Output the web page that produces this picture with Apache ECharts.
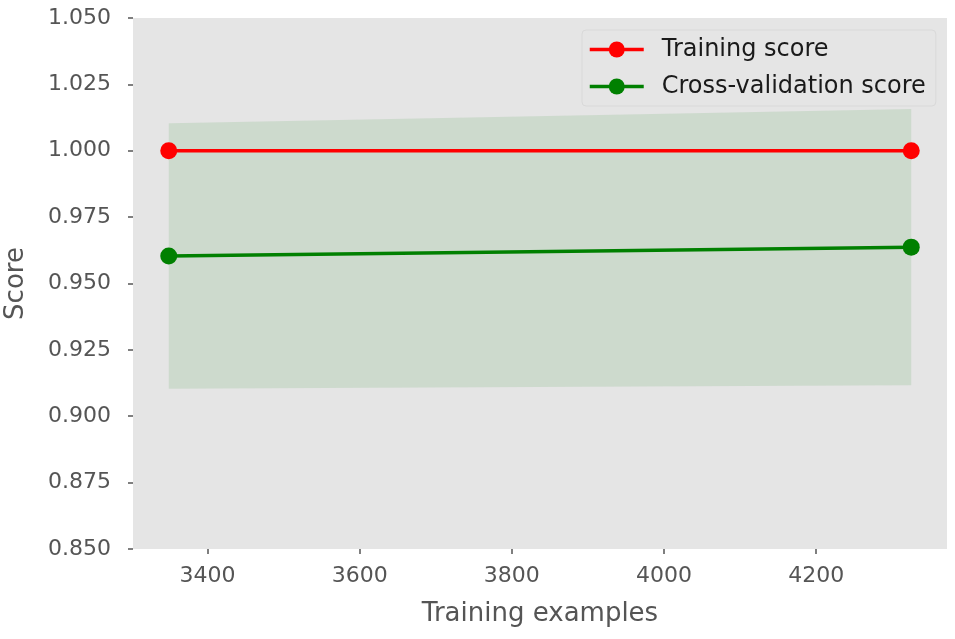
<!DOCTYPE html>
<html>
<head>
<meta charset="utf-8">
<script src="https://cdn.jsdelivr.net/npm/echarts@6/dist/echarts.min.js"></script>
<style>
  html, body { margin: 0; padding: 0; background: #fff; }
  #main { width: 955px; height: 639px; }
</style>
</head>
<body>
<div id="main"></div>
<script>
// learning curve data
var trainSizes = [3349, 4325];
var trainScore = [1.0, 1.0];
var cvScore = [0.9604, 0.9637];
var cvUpper = [1.0104, 1.0157];
var cvLower = [0.9104, 0.9117];
var xTicks = [3400, 3600, 3800, 4000, 4200];

var font = 'DejaVu Sans';

function pairs(xs, ys) {
  return xs.map(function (x, i) { return [x, ys[i]]; });
}

var myChart = echarts.init(document.getElementById('main'));

var option = {
  backgroundColor: '#ffffff',
  animation: false,
  grid: {
    left: 133, right: 8, top: 18, bottom: 90,
    outerBoundsMode: 'none',
    containLabel: false,
    show: true, backgroundColor: '#E5E5E5', borderWidth: 0
  },
  legend: {
    orient: 'vertical',
    left: 582, top: 30,
    padding: [7, 10, 7, 6],
    itemWidth: 54, itemHeight: 20, itemGap: 12,
    backgroundColor: '#E5E5E5',
    borderColor: '#D9D9D9', borderWidth: 1, borderRadius: 4,
    lineStyle: { width: 3.5 },
    textStyle: { fontFamily: font, fontSize: 24, color: '#1a1a1a', lineHeight: 25, padding: [0, 0, 0, 13] },
    data: ['Training score', 'Cross-validation score']
  },
  xAxis: {
    type: 'value',
    min: 3302, max: 4372,
    name: 'Training examples',
    nameLocation: 'middle',
    nameGap: 52,
    nameTextStyle: { fontFamily: font, fontSize: 26, color: '#555555' },
    axisLine: { show: false },
    axisTick: { show: true, length: 5, customValues: xTicks, lineStyle: { color: '#555555', width: 1.5 } },
    axisLabel: {
      customValues: xTicks, fontFamily: font, fontSize: 22, color: '#555555', margin: 16,
      formatter: function (v) { return String(v); }
    },
    splitLine: { show: false }
  },
  yAxis: {
    type: 'value',
    min: 0.85, max: 1.05, interval: 0.025,
    name: 'Score',
    nameLocation: 'middle',
    nameGap: 104,
    nameTextStyle: { fontFamily: font, fontSize: 26, color: '#555555' },
    axisLine: { show: false },
    axisTick: { show: true, length: 5, lineStyle: { color: '#555555', width: 1.5 } },
    axisLabel: {
      fontFamily: font, fontSize: 22, color: '#555555', margin: 22,
      formatter: function (v) { return v.toFixed(3); }
    },
    splitLine: { show: false }
  },
  series: [
    {
      // std band of cross-validation score
      type: 'custom',
      silent: true,
      z: 1,
      data: trainSizes.map(function (x, i) { return [x, cvLower[i], cvUpper[i]]; }),
      renderItem: function (params, api) {
        if (params.dataIndex !== 0) return;
        var top = [], bottom = [];
        for (var i = 0; i < trainSizes.length; i++) {
          top.push(api.coord([trainSizes[i], cvUpper[i]]));
          bottom.unshift(api.coord([trainSizes[i], cvLower[i]]));
        }
        return {
          type: 'polygon',
          shape: { points: top.concat(bottom) },
          style: { fill: 'rgba(0,128,0,0.1)' }
        };
      }
    },
    {
      name: 'Training score',
      type: 'line',
      z: 3,
      data: pairs(trainSizes, trainScore),
      symbol: 'circle', symbolSize: 17,
      lineStyle: { color: '#ff0000', width: 3.5 },
      itemStyle: { color: '#ff0000' }
    },
    {
      name: 'Cross-validation score',
      type: 'line',
      z: 3,
      data: pairs(trainSizes, cvScore),
      symbol: 'circle', symbolSize: 17,
      lineStyle: { color: '#008000', width: 3.5 },
      itemStyle: { color: '#008000' }
    }
  ]
};

myChart.setOption(option);
</script>
</body>
</html>
